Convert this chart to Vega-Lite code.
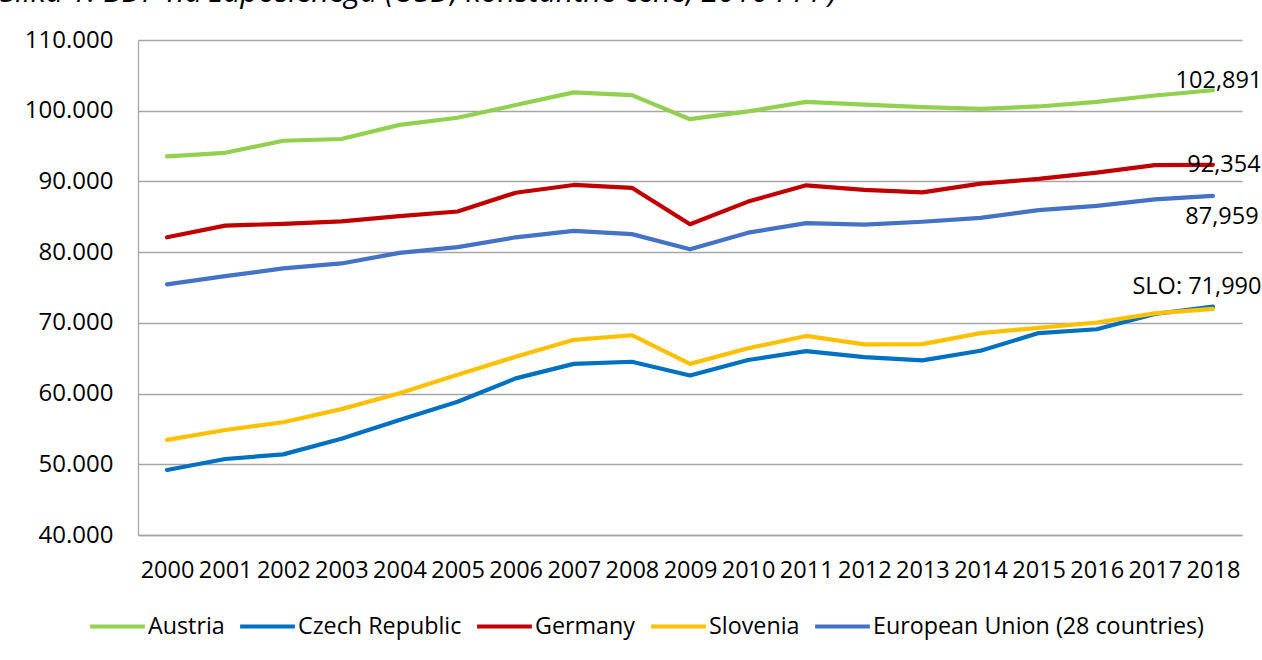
{
  "$schema": "https://vega.github.io/schema/vega-lite/v6.json",
  "width": 1104,
  "height": 495,
  "autosize": {"type": "none"},
  "padding": {"left": 138, "top": 40, "right": 20, "bottom": 125},
  "background": "white",
  "title": {
    "text": "Slika 1: BDP na zaposlenega (USD, konstantne cene, 2010 PPP)",
    "anchor": "start",
    "frame": "group",
    "font": "Open Sans",
    "fontSize": 30.5,
    "fontStyle": "italic",
    "fontWeight": "normal",
    "color": "#000000",
    "baseline": "alphabetic",
    "offset": 0,
    "dx": -138,
    "dy": 4
  },
  "config": {
    "view": {"stroke": null},
    "font": "Open Sans",
    "axis": {
      "labelFont": "Open Sans",
      "labelFontSize": 23.5,
      "labelColor": "#000000",
      "domainColor": "#A6A6A6",
      "domainWidth": 1.3,
      "gridColor": "#A6A6A6",
      "gridWidth": 1.3,
      "ticks": false,
      "tickSize": 0,
      "title": null
    },
    "legend": {
      "labelFont": "Open Sans",
      "labelFontSize": 23.3,
      "labelColor": "#000000",
      "labelLimit": 0
    }
  },
  "datasets": {
    "gdp": [
      {"year": "2000", "country": "Austria", "value": 93550},
      {"year": "2001", "country": "Austria", "value": 94050},
      {"year": "2002", "country": "Austria", "value": 95750},
      {"year": "2003", "country": "Austria", "value": 96000},
      {"year": "2004", "country": "Austria", "value": 98000},
      {"year": "2005", "country": "Austria", "value": 99000},
      {"year": "2006", "country": "Austria", "value": 100800},
      {"year": "2007", "country": "Austria", "value": 102600},
      {"year": "2008", "country": "Austria", "value": 102200},
      {"year": "2009", "country": "Austria", "value": 98800},
      {"year": "2010", "country": "Austria", "value": 99900},
      {"year": "2011", "country": "Austria", "value": 101250},
      {"year": "2012", "country": "Austria", "value": 100850},
      {"year": "2013", "country": "Austria", "value": 100500},
      {"year": "2014", "country": "Austria", "value": 100250},
      {"year": "2015", "country": "Austria", "value": 100600},
      {"year": "2016", "country": "Austria", "value": 101250},
      {"year": "2017", "country": "Austria", "value": 102150},
      {"year": "2018", "country": "Austria", "value": 102891},
      {"year": "2000", "country": "Czech Republic", "value": 49200},
      {"year": "2001", "country": "Czech Republic", "value": 50750},
      {"year": "2002", "country": "Czech Republic", "value": 51400},
      {"year": "2003", "country": "Czech Republic", "value": 53600},
      {"year": "2004", "country": "Czech Republic", "value": 56250},
      {"year": "2005", "country": "Czech Republic", "value": 58850},
      {"year": "2006", "country": "Czech Republic", "value": 62150},
      {"year": "2007", "country": "Czech Republic", "value": 64200},
      {"year": "2008", "country": "Czech Republic", "value": 64500},
      {"year": "2009", "country": "Czech Republic", "value": 62550},
      {"year": "2010", "country": "Czech Republic", "value": 64750},
      {"year": "2011", "country": "Czech Republic", "value": 66000},
      {"year": "2012", "country": "Czech Republic", "value": 65150},
      {"year": "2013", "country": "Czech Republic", "value": 64700},
      {"year": "2014", "country": "Czech Republic", "value": 66050},
      {"year": "2015", "country": "Czech Republic", "value": 68550},
      {"year": "2016", "country": "Czech Republic", "value": 69100},
      {"year": "2017", "country": "Czech Republic", "value": 71250},
      {"year": "2018", "country": "Czech Republic", "value": 72300},
      {"year": "2000", "country": "Germany", "value": 82100},
      {"year": "2001", "country": "Germany", "value": 83750},
      {"year": "2002", "country": "Germany", "value": 84000},
      {"year": "2003", "country": "Germany", "value": 84350},
      {"year": "2004", "country": "Germany", "value": 85100},
      {"year": "2005", "country": "Germany", "value": 85750},
      {"year": "2006", "country": "Germany", "value": 88400},
      {"year": "2007", "country": "Germany", "value": 89500},
      {"year": "2008", "country": "Germany", "value": 89100},
      {"year": "2009", "country": "Germany", "value": 83950},
      {"year": "2010", "country": "Germany", "value": 87150},
      {"year": "2011", "country": "Germany", "value": 89450},
      {"year": "2012", "country": "Germany", "value": 88800},
      {"year": "2013", "country": "Germany", "value": 88450},
      {"year": "2014", "country": "Germany", "value": 89700},
      {"year": "2015", "country": "Germany", "value": 90350},
      {"year": "2016", "country": "Germany", "value": 91250},
      {"year": "2017", "country": "Germany", "value": 92300},
      {"year": "2018", "country": "Germany", "value": 92354},
      {"year": "2000", "country": "Slovenia", "value": 53450},
      {"year": "2001", "country": "Slovenia", "value": 54850},
      {"year": "2002", "country": "Slovenia", "value": 55950},
      {"year": "2003", "country": "Slovenia", "value": 57800},
      {"year": "2004", "country": "Slovenia", "value": 60050},
      {"year": "2005", "country": "Slovenia", "value": 62650},
      {"year": "2006", "country": "Slovenia", "value": 65200},
      {"year": "2007", "country": "Slovenia", "value": 67600},
      {"year": "2008", "country": "Slovenia", "value": 68250},
      {"year": "2009", "country": "Slovenia", "value": 64200},
      {"year": "2010", "country": "Slovenia", "value": 66400},
      {"year": "2011", "country": "Slovenia", "value": 68150},
      {"year": "2012", "country": "Slovenia", "value": 66950},
      {"year": "2013", "country": "Slovenia", "value": 67000},
      {"year": "2014", "country": "Slovenia", "value": 68550},
      {"year": "2015", "country": "Slovenia", "value": 69300},
      {"year": "2016", "country": "Slovenia", "value": 70050},
      {"year": "2017", "country": "Slovenia", "value": 71350},
      {"year": "2018", "country": "Slovenia", "value": 71990},
      {"year": "2000", "country": "European Union (28 countries)", "value": 75450},
      {"year": "2001", "country": "European Union (28 countries)", "value": 76600},
      {"year": "2002", "country": "European Union (28 countries)", "value": 77700},
      {"year": "2003", "country": "European Union (28 countries)", "value": 78400},
      {"year": "2004", "country": "European Union (28 countries)", "value": 79900},
      {"year": "2005", "country": "European Union (28 countries)", "value": 80700},
      {"year": "2006", "country": "European Union (28 countries)", "value": 82100},
      {"year": "2007", "country": "European Union (28 countries)", "value": 83000},
      {"year": "2008", "country": "European Union (28 countries)", "value": 82550},
      {"year": "2009", "country": "European Union (28 countries)", "value": 80400},
      {"year": "2010", "country": "European Union (28 countries)", "value": 82750},
      {"year": "2011", "country": "European Union (28 countries)", "value": 84100},
      {"year": "2012", "country": "European Union (28 countries)", "value": 83900},
      {"year": "2013", "country": "European Union (28 countries)", "value": 84300},
      {"year": "2014", "country": "European Union (28 countries)", "value": 84850},
      {"year": "2015", "country": "European Union (28 countries)", "value": 85950},
      {"year": "2016", "country": "European Union (28 countries)", "value": 86550},
      {"year": "2017", "country": "European Union (28 countries)", "value": 87450},
      {"year": "2018", "country": "European Union (28 countries)", "value": 87959}
    ],
    "labels": [
      {"year": "2018", "country": "Austria", "value": 102891, "label": "102,891"},
      {"year": "2018", "country": "Germany", "value": 92354, "label": "92,354"},
      {"year": "2018", "country": "European Union (28 countries)", "value": 87959, "label": "87,959"},
      {"year": "2018", "country": "Slovenia", "value": 71990, "label": "SLO: 71,990"}
    ]
  },
  "encoding": {
    "x": {
      "field": "year",
      "type": "ordinal",
      "scale": {"type": "point", "padding": 0.5},
      "axis": {"labelAngle": 0, "labelPadding": 23, "labelOverlap": false, "grid": false, "domain": true}
    },
    "y": {
      "field": "value",
      "type": "quantitative",
      "scale": {"domain": [40000, 110000], "nice": false, "zero": false},
      "axis": {
        "values": [40000, 50000, 60000, 70000, 80000, 90000, 100000, 110000],
        "labelPadding": 25,
        "labelFontSize": 24,
        "labelExpr": "replace(format(datum.value, ','), ',', '.')",
        "grid": true,
        "domain": true
      }
    }
  },
  "layer": [
    {
      "data": {"name": "gdp"},
      "mark": {"type": "line", "strokeWidth": 4.2, "strokeCap": "round", "strokeJoin": "round"},
      "encoding": {
        "color": {
          "field": "country",
          "type": "nominal",
          "sort": null,
          "scale": {
            "domain": ["Austria", "Czech Republic", "Germany", "Slovenia", "European Union (28 countries)"],
            "range": ["#92D050", "#0070C0", "#C00000", "#FFC000", "#4472C4"]
          },
          "legend": {
            "title": null,
            "orient": "none",
            "legendX": -50,
            "legendY": 557,
            "direction": "horizontal",
            "symbolType": "stroke",
            "symbolStrokeWidth": 4,
            "symbolSize": 3000,
            "labelOffset": 1,
            "columnPadding": 7
          }
        }
      }
    },
    {
      "data": {"name": "labels"},
      "transform": [{"filter": "datum.country === 'Austria'"}],
      "mark": {"type": "text", "font": "Open Sans", "fontSize": 23.5, "color": "#000000", "dx": 6, "dy": -9, "align": "center", "baseline": "middle"},
      "encoding": {"text": {"field": "label"}}
    },
    {
      "data": {"name": "labels"},
      "transform": [{"filter": "datum.country === 'Germany'"}],
      "mark": {"type": "text", "font": "Open Sans", "fontSize": 23.5, "color": "#000000", "dx": 11, "dy": 0, "align": "center", "baseline": "middle"},
      "encoding": {"text": {"field": "label"}}
    },
    {
      "data": {"name": "labels"},
      "transform": [{"filter": "datum.country === 'European Union (28 countries)'"}],
      "mark": {"type": "text", "font": "Open Sans", "fontSize": 23.5, "color": "#000000", "dx": 9, "dy": 21, "align": "center", "baseline": "middle"},
      "encoding": {"text": {"field": "label"}}
    },
    {
      "data": {"name": "labels"},
      "transform": [{"filter": "datum.country === 'Slovenia'"}],
      "mark": {"type": "text", "font": "Open Sans", "fontSize": 23.5, "color": "#000000", "dx": -16, "dy": -22, "align": "center", "baseline": "middle"},
      "encoding": {"text": {"field": "label"}}
    }
  ]
}
